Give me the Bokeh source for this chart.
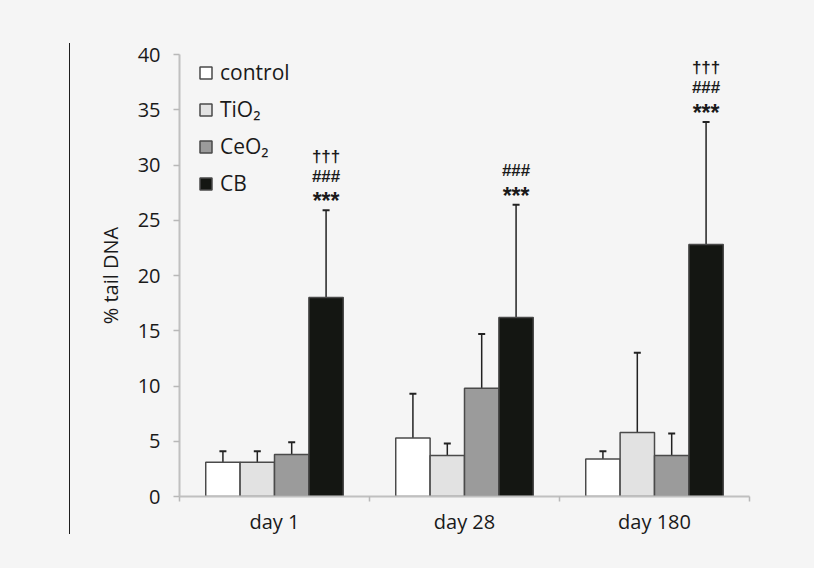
from bokeh.plotting import figure
from bokeh.models import (ColumnDataSource, FixedTicker, Range1d, Whisker, TeeHead,
                          Legend, LegendItem, Div)
from bokeh.layouts import row
from bokeh.core.properties import value
from bokeh.transform import dodge
from bokeh.embed import file_html
from bokeh.resources import INLINE

days = ["day 1", "day 28", "day 180"]
series = ["control", "TiO₂", "CeO₂", "CB"]
means = {
    "control": [3.1, 5.3, 3.4],
    "TiO₂": [3.1, 3.7, 5.8],
    "CeO₂": [3.8, 9.8, 3.7],
    "CB": [18.0, 16.2, 22.8],
}
errors = {
    "control": [1.0, 4.0, 0.7],
    "TiO₂": [1.0, 1.1, 7.2],
    "CeO₂": [1.1, 4.9, 2.0],
    "CB": [7.9, 10.2, 11.1],
}
stars = ["***", "***", "***"]
hashes = ["###", "###", "###"]
daggers = ["†††", "", "†††"]
y_ticks = [0, 5, 10, 15, 20, 25, 30, 35, 40]

colors = ["#ffffff", "#e2e2e2", "#9b9b9b", "#141612"]
BG = "#f5f5f5"
FONT = "Open Sans"

xc = [i + 0.5 for i in range(len(days))]

H = 558
p = figure(width=738, height=H, output_backend="svg", toolbar_location=None,
           x_range=Range1d(0, 3), y_range=Range1d(0, 40),
           min_border_left=103, min_border_right=65, min_border_top=54,
           min_border_bottom=62, background_fill_color=BG, border_fill_color=BG)
p.outline_line_color = None
p.grid.visible = False

bw = 0.181
offsets = [-1.5 * bw, -0.5 * bw, 0.5 * bw, 1.5 * bw]
items = []
for s, c, off in zip(series, colors, offsets):
    top = means[s]
    up = [m + e for m, e in zip(top, errors[s])]
    src = ColumnDataSource(dict(x=xc, top=top, up=up))
    r = p.vbar(x=dodge("x", off), top="top", bottom=0, width=bw, source=src,
               fill_color=c, line_color="#4a4a4a", line_width=1.5)
    items.append(LegendItem(label=s, renderers=[r]))
    w = Whisker(base=dodge("x", off), upper="up", lower="top", source=src,
                dimension="height", line_color="#222222", line_width=1.5,
                upper_head=TeeHead(size=7, line_color="#222222", line_width=2),
                lower_head=None, level="underlay")
    p.add_layout(w)

cb_up = [m + e for m, e in zip(means["CB"], errors["CB"])]
ann = ColumnDataSource(dict(x=xc, y=cb_up, s=stars, h=hashes, d=daggers))
for col, off, size in (("s", -9, "23px"), ("h", -34, "17px"), ("d", -54, "17px")):
    p.text(x=dodge("x", offsets[3]), y="y", text=col, source=ann, y_offset=off,
           text_align="center", text_baseline="middle",
           text_font=value("Liberation Sans"), text_font_size=size,
           text_font_style="bold", text_color="#1a1a1a")

# axes
p.xaxis.ticker = FixedTicker(ticks=xc, minor_ticks=[0, 1, 2, 3])
p.xaxis.major_label_overrides = {x: d for x, d in zip(xc, days)}
p.xaxis.major_tick_line_color = None
p.xaxis.minor_tick_in = 0
p.xaxis.minor_tick_out = 5
p.xaxis.minor_tick_line_color = "#b8b8b8"
p.xaxis.minor_tick_line_width = 1.5
p.xaxis.axis_line_color = "#c0c0c0"
p.xaxis.axis_line_width = 2
p.xaxis.major_label_text_font = FONT
p.xaxis.major_label_text_font_size = "20px"
p.xaxis.major_label_text_color = "#1a1a1a"
p.xaxis.major_label_standoff = 5

p.yaxis.ticker = FixedTicker(ticks=y_ticks, minor_ticks=[])
p.yaxis.major_tick_in = 0
p.yaxis.major_tick_out = 6
p.yaxis.major_tick_line_color = "#b8b8b8"
p.yaxis.major_tick_line_width = 1.5
p.yaxis.axis_line_color = "#c0c0c0"
p.yaxis.axis_line_width = 2
p.yaxis.major_label_text_font = FONT
p.yaxis.major_label_text_font_size = "20px"
p.yaxis.major_label_text_color = "#1a1a1a"
p.yaxis.major_label_standoff = 13
p.yaxis.axis_label = "% tail DNA"
p.yaxis.axis_label_text_font = FONT
p.yaxis.axis_label_text_font_size = "20px"
p.yaxis.axis_label_text_font_style = "normal"
p.yaxis.axis_label_text_color = "#1a1a1a"
p.yaxis.axis_label_standoff = 11

legend = Legend(items=items, location=(19, 299), background_fill_alpha=0,
                border_line_color=None, glyph_width=15, glyph_height=15,
                label_text_font=FONT, label_text_font_size="21px",
                label_text_color="#1a1a1a", label_standoff=7, spacing=9,
                padding=4, margin=0, label_height=22)
p.add_layout(legend)

side = Div(width=66, height=H,
           text='<div style="height:38px"></div>'
                '<div style="margin-left:64px;height:491px;border-left:1.5px solid #1e1e1e"></div>',
           styles={"background-color": BG})
layout = row(side, p, styles={"background-color": BG})

open("out.html", "w").write(file_html(layout, INLINE))
